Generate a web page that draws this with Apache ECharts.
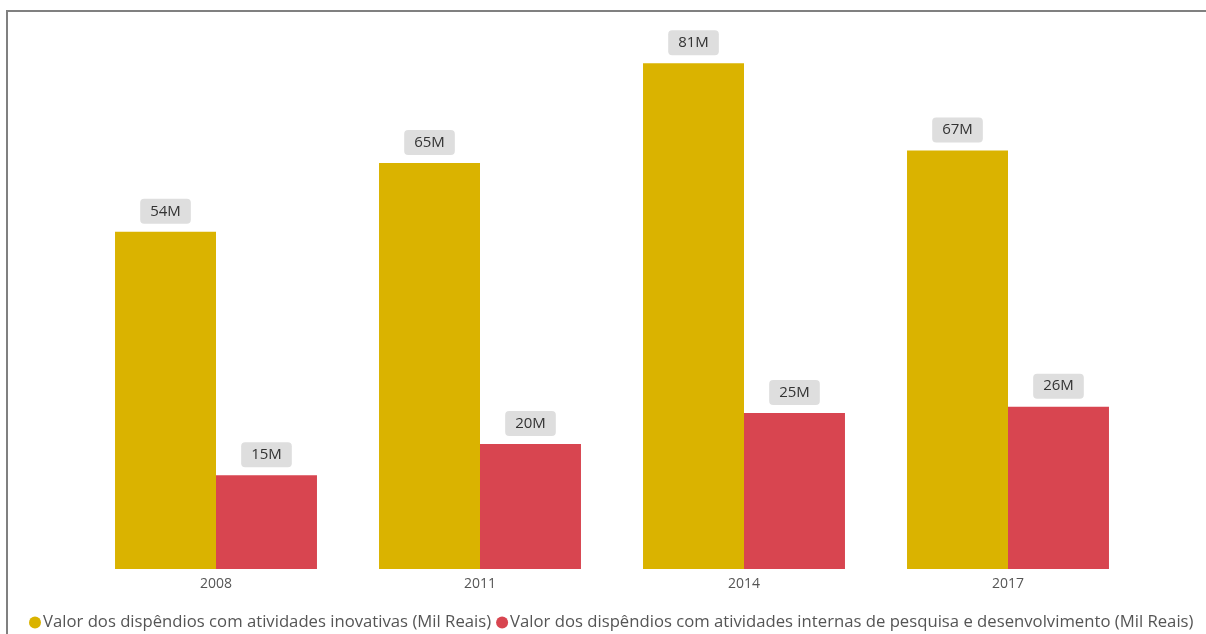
<!DOCTYPE html>
<html>
<head>
<meta charset="utf-8">
<script src="https://cdn.jsdelivr.net/npm/echarts@6/dist/echarts.min.js"></script>
<style>
  html, body { margin: 0; padding: 0; background: #fff; }
  #wrap { position: relative; width: 1206px; height: 634px; overflow: hidden; }
  #frame { position: absolute; left: 6px; top: 10px; right: -4px; bottom: -4px;
           border-left: 2px solid #808080; border-top: 2px solid #808080; pointer-events: none; }
  #chart { position: absolute; left: 0; top: 0; width: 1206px; height: 634px; }
</style>
</head>
<body>
<div id="wrap">
  <div id="chart"></div>
  <div id="frame"></div>
</div>
<script>
// Years surveyed
const years = ['2008', '2011', '2014', '2017'];
// Spending on innovative activities, in millions
const inovativas = [54, 65, 81, 67];
// Spending on internal R&D activities, in millions
const internasPD = [15, 20, 25, 26];

const seriesNames = [
  'Valor dos dispêndios com atividades inovativas (Mil Reais)',
  'Valor dos dispêndios com atividades internas de pesquisa e desenvolvimento (Mil Reais)'
];
const colors = ['#DAB300', '#D84550'];
const fontFamily = '"Open Sans", "Noto Sans", sans-serif';

const valueLabel = {
  show: true,
  position: 'top',
  distance: 8,
  formatter: p => p.value + 'M',
  color: '#333',
  fontSize: 15,
  fontFamily: fontFamily,
  backgroundColor: '#dedede',
  borderRadius: 4,
  padding: [5, 10, 5, 10]
};

const chart = echarts.init(document.getElementById('chart'), null, { renderer: 'canvas' });
chart.setOption({
  animation: false,
  color: colors,
  grid: { left: 84, right: 66, top: 7, bottom: 65, containLabel: false },
  legend: {
    left: 24,
    bottom: -2,
    width: 1240,
    icon: 'circle',
    itemWidth: 12,
    itemHeight: 12,
    itemGap: 5,
    textStyle: { color: '#555', fontSize: 16.7, fontFamily: fontFamily, padding: [0, 0, 0, -3] },
    data: seriesNames
  },
  xAxis: {
    type: 'category',
    data: years,
    axisLine: { show: false },
    axisTick: { show: false },
    axisLabel: { color: '#555', fontSize: 14, fontFamily: fontFamily, margin: 8 }
  },
  yAxis: {
    type: 'value',
    min: 0,
    max: 90,
    show: false,
    splitLine: { show: false }
  },
  series: [
    {
      name: seriesNames[0],
      type: 'bar',
      data: inovativas,
      barGap: '0%',
      barCategoryGap: '23.5%',
      label: valueLabel
    },
    {
      name: seriesNames[1],
      type: 'bar',
      data: internasPD,
      barGap: '0%',
      barCategoryGap: '23.5%',
      label: valueLabel
    }
  ]
});
</script>
</body>
</html>
